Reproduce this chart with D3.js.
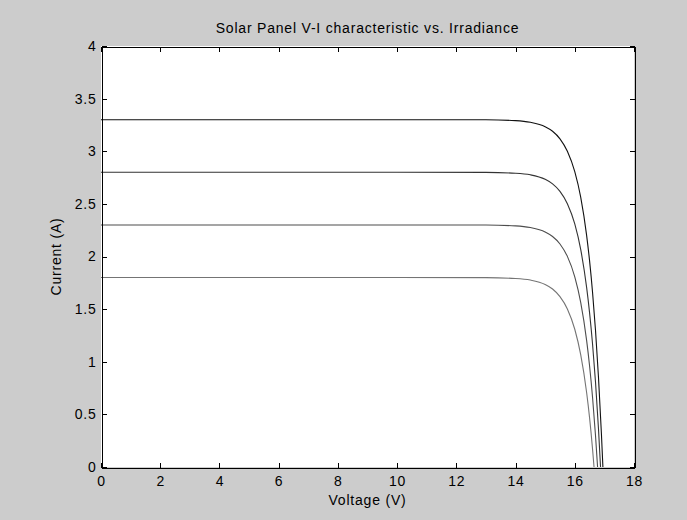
<!DOCTYPE html>
<html>
<head>
<meta charset="utf-8">
<script src="https://cdn.jsdelivr.net/npm/d3@7"></script>
<style>
  html, body { margin: 0; padding: 0; background: #cccccc; }
  svg { display: block; font-family: "Liberation Sans", Arial, sans-serif; }
  svg text { letter-spacing: 0.8px; }
  .axis text { font-size: 14px; fill: #000; }
  .axis path, .axis line { stroke: #000; shape-rendering: crispEdges; }
</style>
</head>
<body>
<div id="chart"></div>
<script>
// voltage samples (V)
const voltage = [0, 10, 13, 14, 14.5, 15, 15.25, 15.5, 15.75, 16, 16.2, 16.4, 16.5, 16.6, 16.7, 16.8, 16.9];

// current (A) for each irradiance level, one curve each
const current1000 = [3.30, 3.30, 3.299, 3.291, 3.275, 3.233, 3.190, 3.118, 3.000, 2.806, 2.564, 2.201, 1.958, 1.661, 1.299, 0.855, 0.314];
const current850  = [2.80, 2.80, 2.799, 2.791, 2.776, 2.733, 2.690, 2.619, 2.502, 2.309, 2.067, 1.706, 1.464, 1.168, 0.807, 0.366, null];
const current700  = [2.30, 2.30, 2.299, 2.291, 2.275, 2.233, 2.190, 2.119, 2.001, 1.807, 1.564, 1.203, 0.960, 0.663, 0.300, null, null];
const current550  = [1.80, 1.80, 1.799, 1.791, 1.776, 1.734, 1.691, 1.619, 1.502, 1.309, 1.068, 0.708, 0.467, 0.171, null, null, null];

// open-circuit voltage where each curve hits zero
const vocs = [16.95, 16.87, 16.77, 16.65];
const lineColors = ["#111111", "#333333", "#4d4d4d", "#747474"];

const xTicks = [0, 2, 4, 6, 8, 10, 12, 14, 16, 18];
const yTicks = [0, 0.5, 1, 1.5, 2, 2.5, 3, 3.5, 4];

const width = 687, height = 520;
const margin = { top: 46, right: 53, bottom: 53, left: 101 };
const w = width - margin.left - margin.right;
const h = height - margin.top - margin.bottom;

const svg = d3.select('#chart').append('svg')
  .attr('width', width)
  .attr('height', height);

svg.append('rect')
  .attr('width', width).attr('height', height)
  .attr('fill', '#cccccc');

const g = svg.append('g')
  .attr('transform', 'translate(' + margin.left + ',' + margin.top + ')');

const x = d3.scaleLinear().domain([0, 18]).range([0, w]);
const y = d3.scaleLinear().domain([0, 4]).range([h, 0]);

g.append('rect')
  .attr('width', w).attr('height', h)
  .attr('fill', '#ffffff');

// build the curves from the arrays
const series = [current1000, current850, current700, current550].map((cur, i) => {
  const pts = [];
  voltage.forEach((v, j) => { if (cur[j] !== null) pts.push([v, cur[j]]); });
  pts.push([vocs[i], 0]);
  return pts;
});

const line = d3.line()
  .x(d => x(d[0]))
  .y(d => y(d[1]))
  .curve(d3.curveMonotoneX);

g.selectAll('path.curve')
  .data(series)
  .enter().append('path')
  .attr('class', 'curve')
  .attr('d', line)
  .attr('fill', 'none')
  .attr('stroke', (d, i) => lineColors[i])
  .attr('stroke-width', 1.1);

// axes, ticks pointing inward
g.append('g')
  .attr('class', 'axis')
  .attr('transform', 'translate(0,' + (h + 0.5) + ')')
  .call(d3.axisBottom(x).tickValues(xTicks).tickSizeInner(-5).tickSizeOuter(0).tickPadding(9).tickFormat(d3.format('d')));

g.append('g')
  .attr('class', 'axis')
  .attr('transform', 'translate(0,0.5)')
  .call(d3.axisTop(x).tickValues(xTicks).tickSizeInner(-5).tickSizeOuter(0).tickFormat(''));

g.append('g')
  .attr('class', 'axis')
  .attr('transform', 'translate(0.5,0)')
  .call(d3.axisLeft(y).tickValues(yTicks).tickSizeInner(-5).tickSizeOuter(0).tickPadding(5).tickFormat(d => d));

g.append('g')
  .attr('class', 'axis')
  .attr('transform', 'translate(' + (w + 0.5) + ',0)')
  .call(d3.axisRight(y).tickValues(yTicks).tickSizeInner(-5).tickSizeOuter(0).tickFormat(''));

// titles
svg.append('text')
  .attr('x', margin.left + w / 2)
  .attr('y', 33)
  .attr('text-anchor', 'middle')
  .style('font-size', '14px')
  .text('Solar Panel V-I characteristic vs. Irradiance');

svg.append('text')
  .attr('x', margin.left + w / 2)
  .attr('y', 505)
  .attr('text-anchor', 'middle')
  .style('font-size', '14px')
  .text('Voltage (V)');

svg.append('text')
  .attr('transform', 'translate(61,' + (margin.top + h / 2) + ') rotate(-90)')
  .attr('text-anchor', 'middle')
  .style('font-size', '14px')
  .text('Current (A)');
</script>
</body>
</html>
